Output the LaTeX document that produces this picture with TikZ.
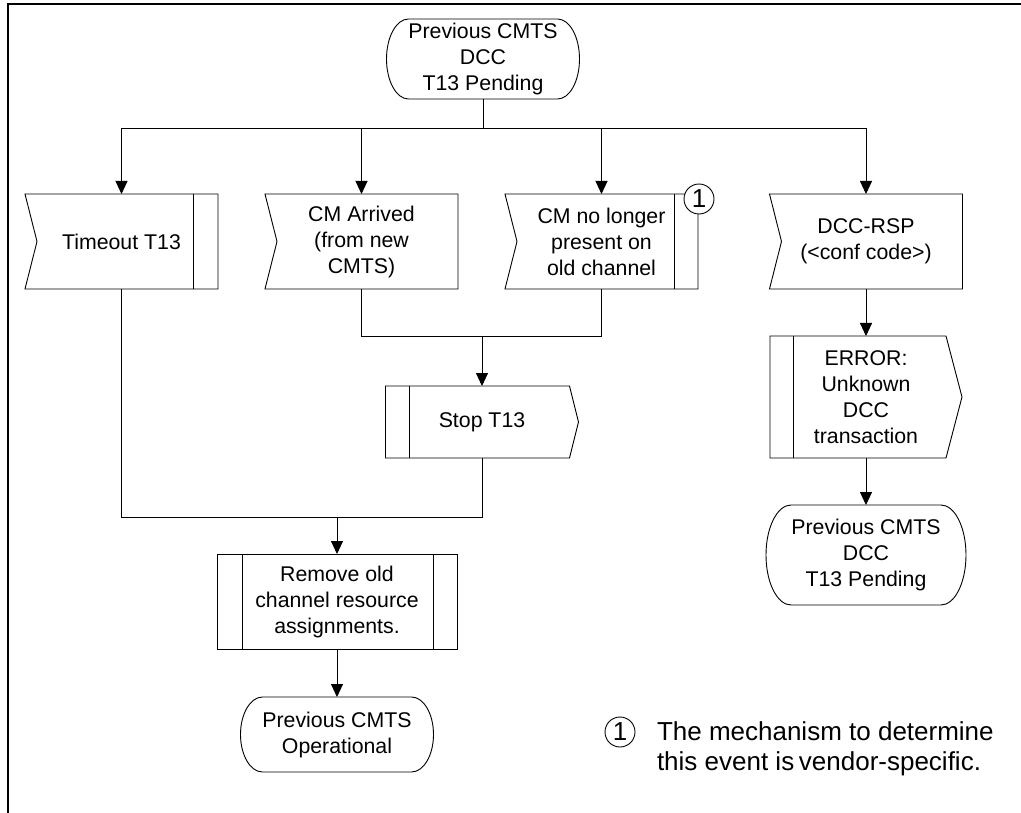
\documentclass[tikz,border=0pt]{standalone}
\usepackage{fontspec}
\setmainfont{Liberation Sans}
\usetikzlibrary{arrows.meta}
\begin{document}
\begin{tikzpicture}[x=1pt,y=-1pt,
  every node/.style={inner sep=0pt, outer sep=0pt, font=\fontsize{21.3}{26}\selectfont, align=center},
  shp/.style={line width=0.9pt},
  ln/.style={line width=0.9pt},
  arr/.style={line width=0.9pt, -{Triangle[length=13pt,width=12pt]}},
  inbox/.style={minimum width=193pt, minimum height=95pt},
  numcirc/.style={circle, draw, line width=0.9pt, fill=white, minimum size=30pt, font=\fontsize{26}{26}\selectfont}]
\useasboundingbox (0,0) rectangle (1021,813);
\draw[line width=2.5pt] (8,813) -- (8,4) -- (1021,4);

% top state
\node[minimum width=193pt, minimum height=80pt] (top) at (483,59) {Previous CMTS\\DCC\\T13 Pending};
\draw[shp] ([xshift=22pt]top.north west) -- ([xshift=-22pt]top.north east)
  arc[start angle=90, end angle=-90, x radius=22pt, y radius=40pt]
  -- ([xshift=22pt]top.south west)
  arc[start angle=270, end angle=90, x radius=22pt, y radius=40pt] -- cycle;

% inputs
\node[inbox] (tmo) at (121.5,241.5) {Timeout T13};
\draw[shp] (tmo.north west) -- (tmo.north east) -- (tmo.south east) -- (tmo.south west) -- ([xshift=12pt]tmo.west) -- cycle;
\draw[shp] ([xshift=-25pt]tmo.north east) -- ([xshift=-25pt]tmo.south east);

\node[inbox] (cma) at (361.5,241.5) {CM Arrived\\(from new\\CMTS)};
\draw[shp] (cma.north west) -- (cma.north east) -- (cma.south east) -- (cma.south west) -- ([xshift=12pt]cma.west) -- cycle;

\node[inbox] (cmn) at (601.5,241.5) {CM no longer\\present on\\old channel};
\draw[shp] (cmn.north west) -- (cmn.north east) -- (cmn.south east) -- (cmn.south west) -- ([xshift=12pt]cmn.west) -- cycle;
\draw[shp] ([xshift=-24pt]cmn.north east) -- ([xshift=-24pt]cmn.south east);
\node[numcirc] (c1) at (699,199) {1};

\node[inbox] (dcc) at (866,241.5) {DCC-RSP\\(<conf code>)};
\draw[shp] (dcc.north west) -- (dcc.north east) -- (dcc.south east) -- (dcc.south west) -- ([xshift=12pt]dcc.west) -- cycle;

% stop T13
\node[minimum width=193pt, minimum height=72pt] (stop) at (482,422) {Stop T13};
\draw[shp] (stop.north west) -- ([xshift=-9pt]stop.north east) -- (stop.east) -- ([xshift=-9pt]stop.south east) -- (stop.south west) -- cycle;
\draw[shp] ([xshift=23.5pt]stop.north west) -- ([xshift=23.5pt]stop.south west);

% remove task
\node[minimum width=240pt, minimum height=95pt] (rem) at (337,601.5) {Remove old\\channel resource\\assignments.};
\draw[shp] (rem.north west) rectangle (rem.south east);
\draw[shp] ([xshift=25pt]rem.north west) -- ([xshift=25pt]rem.south west);
\draw[shp] ([xshift=-24pt]rem.north east) -- ([xshift=-24pt]rem.south east);

% operational state
\node[minimum width=193pt, minimum height=75pt] (op) at (337,734.5) {Previous CMTS\\Operational};
\draw[shp] ([xshift=22pt]op.north west) -- ([xshift=-22pt]op.north east)
  arc[start angle=90, end angle=-90, x radius=22pt, y radius=37.5pt]
  -- ([xshift=22pt]op.south west)
  arc[start angle=270, end angle=90, x radius=22pt, y radius=37.5pt] -- cycle;

% error output
\node[minimum width=192pt, minimum height=122pt] (err) at (866,397) {ERROR:\\Unknown\\DCC\\transaction};
\draw[shp] (err.north west) -- ([xshift=-16pt]err.north east) -- (err.east) -- ([xshift=-16pt]err.south east) -- (err.south west) -- cycle;
\draw[shp] ([xshift=23pt]err.north west) -- ([xshift=23pt]err.south west);

% second state
\node[minimum width=200pt, minimum height=100pt] (st2) at (866,555) {Previous CMTS\\DCC\\T13 Pending};
\draw[shp] ([xshift=25pt]st2.north west) -- ([xshift=-25pt]st2.north east)
  arc[start angle=90, end angle=-90, x radius=25pt, y radius=50pt]
  -- ([xshift=25pt]st2.south west)
  arc[start angle=270, end angle=90, x radius=25pt, y radius=50pt] -- cycle;

% connectors
\coordinate (j0) at (483,128);
\draw[ln] (top.south) -- (j0);
\draw[arr] (j0) -| (tmo.north);
\draw[arr] (j0) -| (cma.north);
\draw[arr] (j0) -| (cmn.north);
\draw[arr] (j0) -| (dcc.north);

\coordinate (j1) at (482,336);
\draw[ln] (cma.south) |- (j1);
\draw[ln] (cmn.south) |- (j1);
\draw[arr] (j1) -- (stop.north);

\coordinate (j2) at (337,517);
\draw[ln] (tmo.south) |- (j2);
\draw[ln] (stop.south) |- (j2);
\draw[arr] (j2) -- (rem.north);
\draw[arr] (rem.south) -- (op.north);
\draw[arr] (dcc.south) -- (err.north);
\draw[arr] (err.south) -- (st2.north);

% footnote
\node[numcirc] (c2) at (620,732) {1};
\node[anchor=north west, align=left, font=\fontsize{26}{30}\selectfont] (fn) at (657,722) {The mechanism to determine\\this event is\hspace{0.18em}vendor-specific.};
\end{tikzpicture}
\end{document}
